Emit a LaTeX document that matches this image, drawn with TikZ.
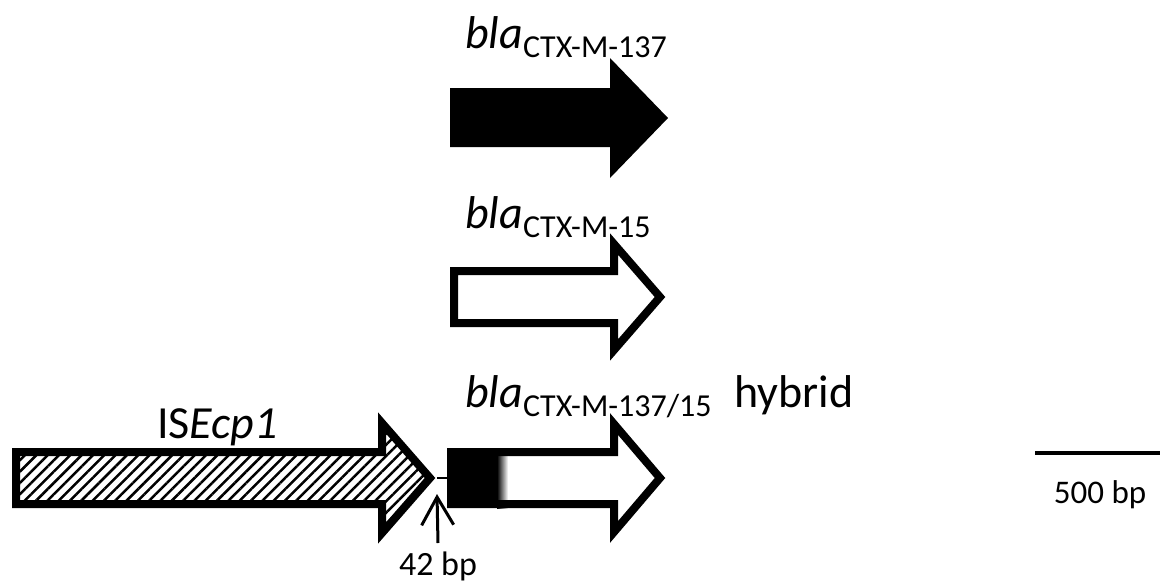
\documentclass[tikz,border=0pt]{standalone}
\usepackage{fontspec}
\setmainfont{Carlito}
\usetikzlibrary{arrows.meta,patterns.meta,positioning}

\tikzset{
  gene/.style={line width=8pt,line join=miter,miter limit=20},
  genelbl/.style={anchor=base west,inner sep=0pt,font=\fontsize{46}{55}\selectfont},
  smalllbl/.style={inner sep=0pt,font=\fontsize{34}{40}\selectfont}
}
\newcommand{\genesub}[1]{\raisebox{-9pt}{\fontsize{32}{38}\selectfont #1}}

\begin{document}
\begin{tikzpicture}[x=1pt,y=-1pt]
  \useasboundingbox (0,0) rectangle (1160,582);

  % blaCTX-M-137, solid
  \fill[black] (450,88) -- (610,88) -- (610,58) -- (668,118) -- (610,178)
    -- (610,147) -- (450,147) -- cycle;
  \node[genelbl] (lbl137) at (465,48) {\textit{bla}\genesub{CTX-M-137}};

  % blaCTX-M-15, open
  \draw[gene,fill=white] (454,271) -- (614,271) -- (614,244) -- (660,297)
    -- (614,350) -- (614,323) -- (454,323) -- cycle;
  \node[genelbl] (lbl15) at (465,228) {\textit{bla}\genesub{CTX-M-15}};

  % hybrid
  \fill[white] (451,452) -- (614,452) -- (614,424) -- (660,478) -- (614,532)
    -- (614,504) -- (451,504) -- cycle;
  \fill[black] (447,448) rectangle (497,508);
  \shade[left color=black,right color=white] (497,448) rectangle (508,508);
  \draw[gene] (451,452) -- (614,452) -- (614,424) -- (660,478) -- (614,532)
    -- (614,504) -- (451,504) -- cycle;
  \node[genelbl] (lblhyb) at (465,407) {\textit{bla}\genesub{CTX-M-137/15}};
  \node[genelbl] (hyb) at (734,407) {hybrid};

  % ISEcp1
  \draw[gene,pattern={Lines[angle=45,distance=8pt,line width=2.5pt]}]
    (16,452) -- (382,452) -- (382,423) -- (430,478) -- (382,533)
    -- (382,504) -- (16,504) -- cycle;
  \node[genelbl] (lblis) at (157,438) {IS\textit{Ecp1}};

  % gap between ISEcp1 and the gene
  \coordinate (istip) at (437,478);
  \coordinate (genestart) at (447,478);
  \draw[line width=2.5pt] (istip) -- (genestart);

  % 42 bp mark
  \node[smalllbl,anchor=base] (lbl42) at (438,575) {42 bp};
  \coordinate (gapmark) at (437,494);
  \draw[line width=3pt,-{Straight Barb[length=28pt,width=32pt,line width=3pt]}]
    (lbl42.north |- 0,543) -- (gapmark);

  % scale bar
  \coordinate (barl) at (1035,453);
  \coordinate (barr) at (1160,453);
  \draw[line width=3.5pt] (barl) -- (barr);
  \node[smalllbl,anchor=base,font=\fontsize{33}{40}\selectfont] (lblbar) at (1100,503) {500 bp};
\end{tikzpicture}
\end{document}
